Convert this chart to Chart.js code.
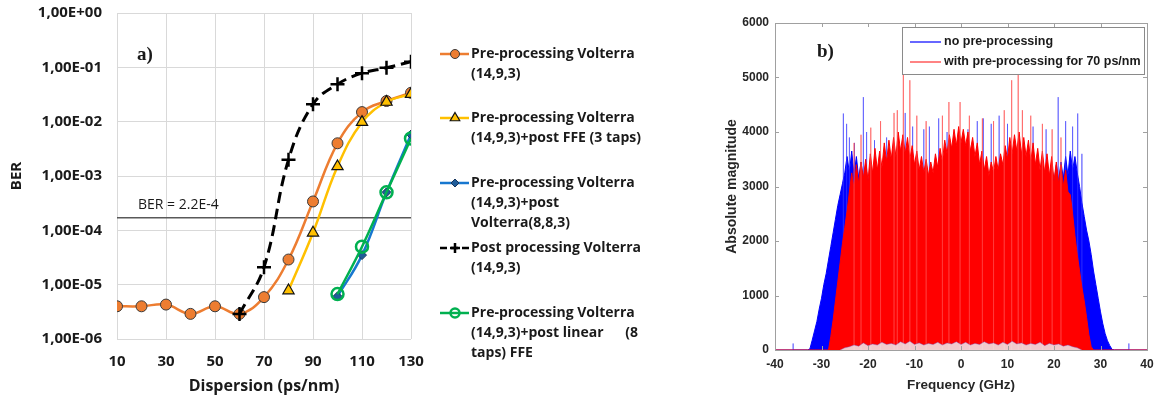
<!DOCTYPE html>
<html>
<head>
<meta charset="utf-8">
<script src="https://cdn.jsdelivr.net/npm/chart.js@4.4.0/dist/chart.umd.min.js"></script>
<style>
  body { margin: 0; background: #fff; }
  #berBox { position: absolute; left: 0; top: 0; width: 690px; height: 396px; }
  #specBox { position: absolute; left: 690px; top: 0; width: 466px; height: 396px; }
</style>
</head>
<body>
<div id="berBox"><canvas id="berChartCanvas" width="690" height="396"></canvas></div>
<div id="specBox"><canvas id="specChartCanvas" width="466" height="396"></canvas></div>
<script>
// ---- a) BER vs dispersion ----
var dispersion = [10, 20, 30, 40, 50, 60, 70, 80, 90, 100, 110, 120, 130];
var berPreVolterra = [4e-6, 4e-6, 4.3e-6, 2.9e-6, 4e-6, 2.9e-6, 5.9e-6, 2.9e-5, 3.4e-4, 4e-3, 1.5e-2, 2.4e-2, 3.4e-2];
var berPreVolterraFFE3 = [null, null, null, null, null, null, null, 7.8e-6, 9e-5, 1.5e-3, 9.8e-3, 2.3e-2, 3.2e-2];
var berPreVolterraPostVolterra = [null, null, null, null, null, null, null, null, null, 6.1e-6, 3.5e-5, 5e-4, 5.8e-3];
var berPostVolterra = [null, null, null, null, null, 2.9e-6, 2.1e-5, 2e-3, 2.1e-2, 4.9e-2, 7.8e-2, 9.8e-2, 1.27e-1];
var berPreVolterraFFE8 = [null, null, null, null, null, null, null, null, null, 6.7e-6, 5e-5, 5e-4, 4.9e-3];
var berThreshold = 1.7e-4;
var berTicks = [1e-6, 1e-5, 1e-4, 1e-3, 1e-2, 1e-1, 1];
var dispersionTicks = [10, 30, 50, 70, 90, 110, 130];

// ---- b) spectrum ----
var specFreq = [-40,
  -33, -32.5, -32, -31.5, -31, -30.5, -30, -29.5, -29, -28.5,
  -28, -27.5, -27, -26.5, -26, -25.5, -25, -24.5, -24, -23.5,
  -23, -22.5, -22, -21.5, -21, -20.5, -20, -19.5, -19, -18.5,
  -18, -17.5, -17, -16.5, -16, -15.5, -15, -14.5, -14, -13.5,
  -13, -12.5, -12, -11.5, -11, -10.5, -10, -9.5, -9, -8.5,
  -8, -7.5, -7, -6.5, -6, -5.5, -5, -4.5, -4, -3.5,
  -3, -2.5, -2, -1.5, -1, -0.5, 0, 0.5, 1, 1.5,
  2, 2.5, 3, 3.5, 4, 4.5, 5, 5.5, 6, 6.5,
  7, 7.5, 8, 8.5, 9, 9.5, 10, 10.5, 11, 11.5,
  12, 12.5, 13, 13.5, 14, 14.5, 15, 15.5, 16, 16.5,
  17, 17.5, 18, 18.5, 19, 19.5, 20, 20.5, 21, 21.5,
  22, 22.5, 23, 23.5, 24, 24.5, 25, 25.5, 26, 26.5,
  27, 27.5, 28, 28.5, 29, 29.5, 30, 30.5, 31, 31.5,
  32, 32.5, 33,
  40];
var specNoPre = [0,
  0, 20, 180, 350, 520, 750, 950, 1200, 1400, 1650,
  1900, 2150, 2400, 2650, 2850, 3050, 3250, 3550, 3250, 3650,
  3200, 3550, 3150, 3450, 3100, 3400, 3050, 3300, 3000, 3250,
  3000, 3200, 2950, 3250, 3000, 3300, 3050, 3350, 3100, 3300,
  3050, 3250, 3000, 3200, 2950, 3150, 2900, 3100, 2900, 3100,
  2850, 3050, 2850, 3050, 2900, 3100, 2950, 3150, 3000, 3200,
  3050, 3250, 3100, 3300, 3100, 3300, 3150, 3300, 3100, 3250,
  3050, 3200, 3000, 3150, 2950, 3100, 2900, 3050, 2850, 3050,
  2900, 3100, 2950, 3150, 3000, 3200, 3050, 3250, 3050, 3300,
  3100, 3300, 3050, 3300, 3000, 3250, 3000, 3200, 2950, 3250,
  3000, 3300, 3050, 3350, 3100, 3400, 3050, 3400, 3100, 3450,
  3150, 3550, 3200, 3650, 3300, 3550, 3250, 3000, 2700, 2450,
  2200, 2000, 1750, 1450, 1200, 950, 700, 480, 300, 170,
  80, 10, 0,
  0];
var specWithPre = [0,
  0, 0, 0, 0, 0, 0, 0, 0, 0, 0,
  250, 550, 900, 1250, 1600, 1950, 2250, 2550, 2900, 3250,
  2950, 3400, 3050, 3450, 3150, 3500, 3100, 3600, 3250, 3700,
  3300, 3650, 3350, 3800, 3450, 3850, 3500, 3900, 3550, 4000,
  3650, 3950, 3600, 3900, 3500, 3750, 3400, 3650, 3300, 3550,
  3250, 3500, 3200, 3450, 3250, 3600, 3350, 3700, 3450, 3850,
  3600, 3950, 3700, 4050, 3750, 4100, 3800, 4050, 3750, 4000,
  3650, 3900, 3550, 3800, 3400, 3650, 3300, 3550, 3200, 3450,
  3250, 3550, 3300, 3600, 3400, 3750, 3500, 3900, 3600, 3950,
  3650, 4000, 3600, 3900, 3550, 3850, 3450, 3800, 3400, 3700,
  3300, 3650, 3250, 3600, 3200, 3550, 3100, 3450, 3050, 3400,
  3000, 3300, 2900, 2850, 2500, 2100, 1750, 1450, 1150, 900,
  600, 280, 60, 0, 0, 0, 0, 0, 0, 0,
  0, 0, 0,
  0];
// pale low-level floor visible along the baseline under the red spectrum
var floorFreq = [-26, -25, -24, -23, -22, -21, -20, -19, -18, -17, -16, -15, -14, -13, -12, -11, -10, -9, -8, -7, -6, -5, -4, -3, -2, -1, 0,
  1, 2, 3, 4, 5, 6, 7, 8, 9, 10, 11, 12, 13, 14, 15, 16, 17, 18, 19, 20, 21, 22, 23, 24, 25, 26];
var floorMag = [0, 40, 60, 90, 70, 130, 80, 110, 90, 140, 100, 120, 90, 150, 110, 160, 100, 130, 90, 120, 100, 140, 90, 130, 110, 150, 100,
  140, 90, 120, 100, 150, 110, 130, 90, 140, 100, 160, 110, 130, 90, 120, 100, 140, 80, 120, 90, 110, 70, 90, 60, 40, 0];
var noPreSpikeFreq = [-36.1, -25.3, -24.6, -24.0, -22.9, -21.0, -20.3, -18.6, -16.0, -12.0, -10.4, -8.0, -6.8, -4.8, -3.0, 1.5, 3.5, 4.8, 6.5, 8.2, 10.0, 15.5, 18.3, 20.9, 22.5, 24.0, 25.1, 26.0, 36.1];
var noPreSpikeMag = [120, 4340, 4150, 3900, 3800, 4640, 4000, 3850, 3900, 4350, 4100, 4050, 4100, 4250, 4000, 4050, 4200, 4250, 4150, 4300, 4150, 4100, 4050, 4640, 4200, 4100, 4340, 3600, 120];
var withPreSpikeFreq = [-23.0, -21.5, -19.4, -17.3, -14.4, -13.7, -12.4, -11.0, -9.5, -7.5, -4.0, -2.6, -0.2, 1.8, 4.6, 7.0, 9.3, 10.9, 12.3, 13.2, 15.0, 17.5, 19.6, 21.5];
var withPreSpikeMag = [3800, 3950, 4080, 4200, 4350, 4400, 5050, 4950, 4300, 4200, 4300, 4550, 4550, 4300, 4250, 4200, 4400, 4950, 5050, 4400, 4300, 4150, 4050, 3900];
var freqTicks = [-40, -30, -20, -10, 0, 10, 20, 30, 40];
var magTicks = [0, 1000, 2000, 3000, 4000, 5000, 6000];

// helpers
function toPoints(xs, ys) {
  var out = [];
  xs.forEach(function (x, i) {
    if (ys[i] !== null) out.push({ x: x, y: ys[i] });
  });
  return out;
}
function toSpikes(xs, ys) {
  var out = [];
  xs.forEach(function (x, i) {
    out.push({ x: x, y: 0 }, { x: x, y: ys[i] }, { x: x, y: 0 });
  });
  return out;
}
function formatBer(v) {
  var e = Math.round(Math.log10(v));
  return "1,00E" + (e < 0 ? "-" : "+") + String(Math.abs(e)).padStart(2, "0");
}
// keep the plot area where the layout padding puts it
function noLabelOverhang(scale) {
  scale.paddingTop = 0;
  scale.paddingBottom = 0;
  scale.paddingLeft = 0;
  scale.paddingRight = 0;
}

var officeFont = "'Open Sans', Lato, sans-serif";
var matlabFont = "'Liberation Sans', Arial, sans-serif";

// legend + annotations for a)
var berLegendRows = [
  { ds: 0, y: 54, r: 4.5, lines: ["Pre-processing Volterra", "(14,9,3)"] },
  { ds: 1, y: 118, r: 5.5, lines: ["Pre-processing Volterra", "(14,9,3)+post FFE (3 taps)"] },
  { ds: 2, y: 183, r: 4, lines: ["Pre-processing Volterra", "(14,9,3)+post", "Volterra(8,8,3)"] },
  { ds: 3, y: 248, r: 5, lines: ["Post processing Volterra", "(14,9,3)"] },
  { ds: 4, y: 313, r: 4.5, lines: ["Pre-processing Volterra", "(14,9,3)+post linear      (8", "taps) FFE"] }
];

var berDecorPlugin = {
  id: "berDecor",
  afterDraw: function (chart) {
    var ctx = chart.ctx;
    var area = chart.chartArea;
    var yScale = chart.scales.y;
    ctx.save();
    // threshold label
    ctx.fillStyle = "#1a1a1a";
    ctx.font = "14px " + officeFont;
    ctx.textBaseline = "middle";
    ctx.textAlign = "left";
    ctx.fillText("BER = 2.2E-4", area.left + 21, yScale.getPixelForValue(berThreshold) - 13);
    // panel label
    ctx.font = "bold 19px 'Liberation Serif', serif";
    ctx.fillText("a)", 137, 55);
    // legend
    berLegendRows.forEach(function (row) {
      var ds = chart.data.datasets[row.ds];
      ctx.strokeStyle = ds.borderColor;
      ctx.lineWidth = 2.5;
      ctx.setLineDash(ds.borderDash ? [7, 4] : []);
      ctx.beginPath();
      ctx.moveTo(440, row.y);
      ctx.lineTo(469, row.y);
      ctx.stroke();
      ctx.setLineDash([]);
      ctx.fillStyle = ds.pointBackgroundColor;
      ctx.strokeStyle = ds.pointBorderColor;
      ctx.lineWidth = ds.pointBorderWidth;
      Chart.helpers.drawPoint(ctx, { pointStyle: ds.pointStyle, radius: row.r, borderWidth: ds.pointBorderWidth, rotation: 0 }, 455, row.y);
      ctx.fillStyle = "#1a1a1a";
      ctx.font = "bold 14px " + officeFont;
      row.lines.forEach(function (t, k) {
        ctx.fillText(t, 471, row.y + k * 20);
      });
    });
    ctx.restore();
  }
};

var berChart = new Chart(document.getElementById("berChartCanvas").getContext("2d"), {
  type: "line",
  data: {
    datasets: [
      {
        label: "Pre-processing Volterra (14,9,3)",
        data: toPoints(dispersion, berPreVolterra),
        borderColor: "#ED7D31",
        borderWidth: 2.5,
        pointStyle: "circle",
        pointRadius: 5.5,
        pointBackgroundColor: "#ED7D31",
        pointBorderColor: "#3a3a3a",
        pointBorderWidth: 1,
        tension: 0.4,
        order: 5
      },
      {
        label: "Pre-processing Volterra (14,9,3)+post FFE (3 taps)",
        data: toPoints(dispersion, berPreVolterraFFE3),
        borderColor: "#FFC000",
        borderWidth: 2.5,
        pointStyle: "triangle",
        pointRadius: 6.5,
        pointBackgroundColor: "#FFC000",
        pointBorderColor: "#111",
        pointBorderWidth: 1.2,
        tension: 0.4,
        order: 4
      },
      {
        label: "Pre-processing Volterra (14,9,3)+post Volterra(8,8,3)",
        data: toPoints(dispersion, berPreVolterraPostVolterra),
        borderColor: "#1777CF",
        borderWidth: 2.5,
        pointStyle: "rectRot",
        pointRadius: 4.5,
        pointBackgroundColor: "#1F5C99",
        pointBorderColor: "#17365D",
        pointBorderWidth: 1,
        tension: 0.4,
        order: 2
      },
      {
        label: "Post processing Volterra (14,9,3)",
        data: toPoints(dispersion, berPostVolterra),
        borderColor: "#000",
        borderWidth: 3,
        borderDash: [11, 6],
        pointStyle: "cross",
        pointRadius: 7,
        pointBackgroundColor: "#000",
        pointBorderColor: "#000",
        pointBorderWidth: 2.5,
        tension: 0.4,
        order: 3
      },
      {
        label: "Pre-processing Volterra (14,9,3)+post linear (8 taps) FFE",
        data: toPoints(dispersion, berPreVolterraFFE8),
        borderColor: "#00B050",
        borderWidth: 2.5,
        pointStyle: "circle",
        pointRadius: 6,
        pointBackgroundColor: "rgba(255,255,255,0)",
        pointBorderColor: "#00B050",
        pointBorderWidth: 2.5,
        tension: 0.4,
        order: 1
      },
      {
        label: "BER = 2.2E-4",
        data: toPoints([10, 130], [berThreshold, berThreshold]),
        borderColor: "#595959",
        borderWidth: 1.5,
        pointRadius: 0,
        order: 6
      }
    ]
  },
  options: {
    responsive: false,
    animation: false,
    layout: { padding: { top: 13, right: 279, bottom: 0, left: 0 } },
    plugins: { legend: { display: false }, tooltip: { enabled: false } },
    scales: {
      x: {
        type: "linear",
        min: 10,
        max: 130,
        afterBuildTicks: function (scale) {
          scale.ticks = dispersionTicks.map(function (v) { return { value: v }; });
        },
        afterFit: function (scale) { scale.height = 57; noLabelOverhang(scale); },
        grid: { color: "#d9d9d9", drawTicks: false },
        border: { display: false },
        ticks: { padding: 14, color: "#1a1a1a", autoSkip: false, maxRotation: 0, font: { family: officeFont, size: 15, weight: "bold" } },
        title: { display: true, text: "Dispersion (ps/nm)", color: "#1a1a1a", padding: { top: 0, bottom: 0 }, font: { family: officeFont, size: 16, weight: "bold" } }
      },
      y: {
        type: "logarithmic",
        min: 1e-6,
        max: 1,
        afterBuildTicks: function (scale) {
          scale.ticks = berTicks.map(function (v) { return { value: v, major: true }; });
        },
        afterFit: function (scale) { scale.width = 117; noLabelOverhang(scale); },
        grid: { color: "#d9d9d9", drawTicks: false },
        border: { display: false },
        ticks: {
          padding: 15,
          color: "#1a1a1a",
          autoSkip: false,
          font: { family: officeFont, size: 15, weight: "bold" },
          callback: function (v) { return formatBer(v); }
        },
        title: { display: true, text: "BER", color: "#1a1a1a", padding: { top: 8, bottom: 0 }, font: { family: officeFont, size: 15, weight: "bold" } }
      }
    }
  },
  plugins: [berDecorPlugin]
});

// frame, inward ticks, legend for b)
var specDecorPlugin = {
  id: "specDecor",
  afterDraw: function (chart) {
    var ctx = chart.ctx;
    var a = chart.chartArea;
    var xs = chart.scales.x;
    var ys = chart.scales.y;
    ctx.save();
    ctx.strokeStyle = "#a0a0a0";
    ctx.lineWidth = 1;
    ctx.strokeRect(Math.round(a.left) + 0.5, Math.round(a.top) + 0.5, Math.round(a.right - a.left), Math.round(a.bottom - a.top));
    ctx.beginPath();
    freqTicks.forEach(function (v) {
      var px = Math.round(xs.getPixelForValue(v)) + 0.5;
      ctx.moveTo(px, a.bottom); ctx.lineTo(px, a.bottom - 4);
      ctx.moveTo(px, a.top); ctx.lineTo(px, a.top + 4);
    });
    magTicks.forEach(function (v) {
      var py = Math.round(ys.getPixelForValue(v)) + 0.5;
      ctx.moveTo(a.left, py); ctx.lineTo(a.left + 4, py);
      ctx.moveTo(a.right, py); ctx.lineTo(a.right - 4, py);
    });
    ctx.stroke();
    // legend box
    ctx.fillStyle = "#fff";
    ctx.fillRect(212, 27, 242, 47);
    ctx.strokeStyle = "#8a8a8a";
    ctx.strokeRect(212.5, 27.5, 242, 47);
    ctx.lineWidth = 1.2;
    ctx.strokeStyle = "#0000FF";
    ctx.beginPath(); ctx.moveTo(220, 42); ctx.lineTo(251, 42); ctx.stroke();
    ctx.strokeStyle = "#FF3030";
    ctx.beginPath(); ctx.moveTo(220, 62); ctx.lineTo(251, 62); ctx.stroke();
    ctx.fillStyle = "#1a1a1a";
    ctx.font = "bold 12.5px " + matlabFont;
    ctx.textBaseline = "middle";
    ctx.fillText("no pre-processing", 254, 42);
    ctx.fillText("with pre-processing for 70 ps/nm", 254, 62);
    // panel label
    ctx.font = "bold 19px 'Liberation Serif', serif";
    ctx.fillText("b)", 127, 52);
    ctx.restore();
  }
};

var specChart = new Chart(document.getElementById("specChartCanvas").getContext("2d"), {
  type: "line",
  data: {
    datasets: [
      {
        label: "no pre-processing",
        data: toPoints(specFreq, specNoPre),
        borderColor: "#0000FF",
        backgroundColor: "#0000FF",
        borderWidth: 1,
        pointRadius: 0,
        fill: "origin",
        order: 5
      },
      {
        label: "no pre-processing spikes",
        data: toSpikes(noPreSpikeFreq, noPreSpikeMag),
        borderColor: "rgba(50,50,255,0.55)",
        borderWidth: 1,
        pointRadius: 0,
        fill: false,
        order: 4
      },
      {
        label: "with pre-processing for 70 ps/nm",
        data: toPoints(specFreq, specWithPre),
        borderColor: "#FF0000",
        backgroundColor: "#FF0000",
        borderWidth: 1,
        pointRadius: 0,
        fill: "origin",
        order: 3
      },
      {
        label: "with pre-processing spikes",
        data: toSpikes(withPreSpikeFreq, withPreSpikeMag),
        borderColor: "rgba(255,70,70,0.6)",
        borderWidth: 1,
        pointRadius: 0,
        fill: false,
        order: 2
      },
      {
        label: "floor",
        data: toPoints(floorFreq, floorMag),
        borderColor: "rgba(120,90,200,0.5)",
        backgroundColor: "rgba(240,236,240,0.85)",
        borderWidth: 0.8,
        pointRadius: 0,
        fill: "origin",
        order: 1
      }
    ]
  },
  options: {
    responsive: false,
    animation: false,
    layout: { padding: { top: 23, right: 9, bottom: 0, left: 0 } },
    plugins: { legend: { display: false }, tooltip: { enabled: false } },
    scales: {
      x: {
        type: "linear",
        min: -40,
        max: 40,
        afterBuildTicks: function (scale) {
          scale.ticks = freqTicks.map(function (v) { return { value: v }; });
        },
        afterFit: function (scale) { scale.height = 46; noLabelOverhang(scale); },
        grid: { display: false, drawTicks: false },
        border: { display: false },
        ticks: {
          padding: 7, color: "#262626", autoSkip: false, maxRotation: 0,
          font: { family: matlabFont, size: 12, weight: "bold" },
          callback: function (v) { return String(v); }
        },
        title: { display: true, text: "Frequency (GHz)", color: "#262626", padding: { top: 0, bottom: 3 }, font: { family: matlabFont, size: 13.5, weight: "bold" } }
      },
      y: {
        type: "linear",
        min: 0,
        max: 6000,
        afterBuildTicks: function (scale) {
          scale.ticks = magTicks.map(function (v) { return { value: v }; });
        },
        afterFit: function (scale) { scale.width = 85; noLabelOverhang(scale); },
        grid: { display: false, drawTicks: false },
        border: { display: false },
        ticks: {
          padding: 6, color: "#262626", autoSkip: false,
          font: { family: matlabFont, size: 12, weight: "bold" },
          callback: function (v) { return String(v); }
        },
        title: { display: true, text: "Absolute magnitude", color: "#262626", padding: { top: 34, bottom: 0 }, font: { family: matlabFont, size: 14, weight: "bold" } }
      }
    }
  },
  plugins: [specDecorPlugin]
});
</script>
</body>
</html>
